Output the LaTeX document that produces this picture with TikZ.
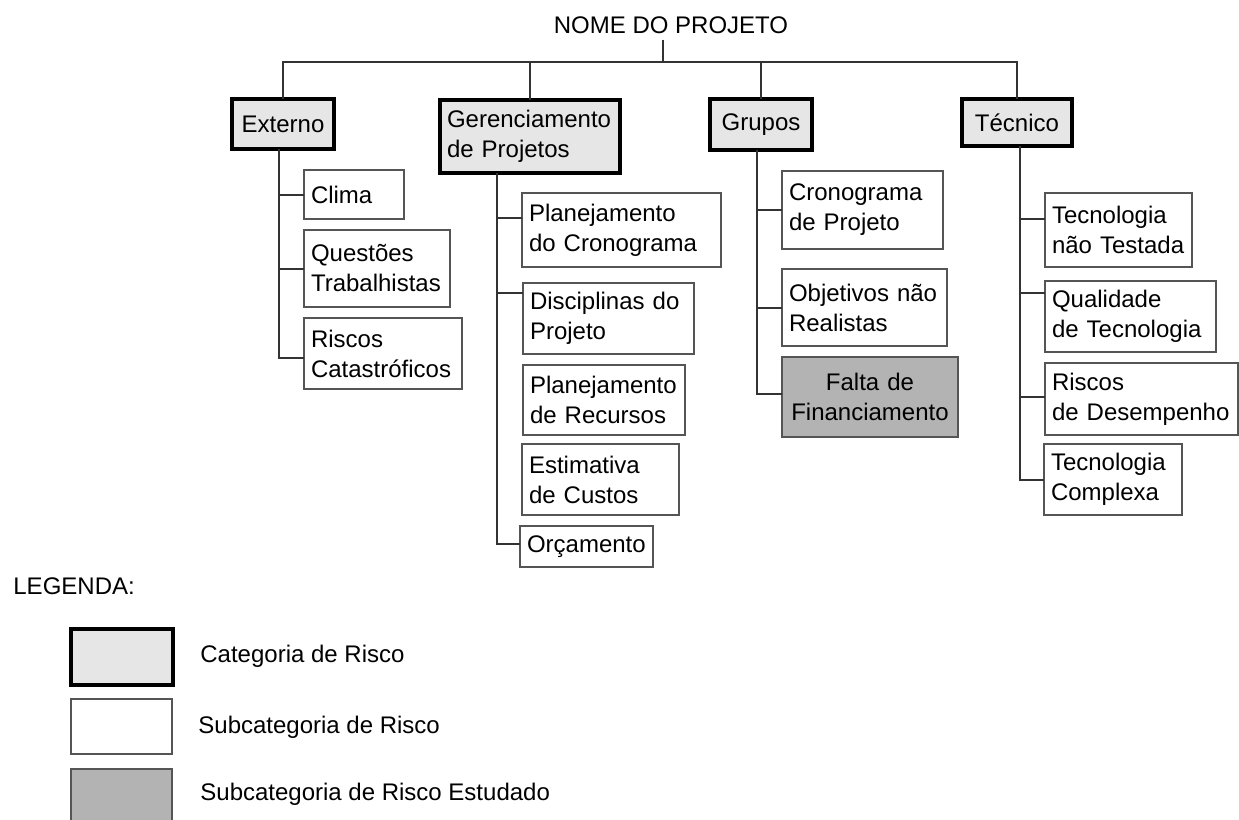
\documentclass[tikz,border=0pt]{standalone}
\usepackage{fontspec}
\setmainfont{Liberation Sans}
\definecolor{catfill}{HTML}{E6E6E6}
\definecolor{estfill}{HTML}{B3B3B3}
\definecolor{subline}{HTML}{555555}
\definecolor{linkcol}{HTML}{333333}
\tikzset{
  boxfont/.style={font=\fontsize{12}{15}\selectfont},
  cat/.style={boxfont, draw=black, line width=2pt, fill=catfill, align=center,
    inner xsep=3.5pt, inner ysep=0pt, outer sep=0pt, anchor=north west},
  sub/.style={boxfont, draw=subline, line width=1pt, fill=white, align=left,
    inner xsep=3.5pt, inner ysep=0pt, outer sep=0pt, anchor=north west},
  est/.style={sub, fill=estfill, align=center},
  link/.style={draw=linkcol, line width=1pt},
  txt/.style={boxfont, inner sep=0pt, anchor=base west}
}
\begin{document}
\begin{tikzpicture}[x=0.5pt, y=-0.5pt]
  \useasboundingbox (0,0) rectangle (1239,820);
  % Projeto
  \node[boxfont, inner sep=3pt, anchor=base] (root) at (671,33) {NOME DO PROJETO};
  \coordinate (bus) at (663,62);
  % Categorias
  \node[cat, text width=44pt, minimum height=25pt] (ext) at (232,99) {Externo};
  \node[cat, text width=83pt, minimum height=36.5pt, align=left] (ger) at (440,100)
    {Gerenciamento\\de Projetos};
  \node[cat, text width=44pt, minimum height=25.5pt] (gru) at (710,99) {Grupos};
  \node[cat, text width=48pt, minimum height=23.5pt] (tec) at (962,99) {Técnico};
  \draw[link] (root.south -| bus) -- (bus);
  \draw[link] (ext.north) |- (bus) -| (tec.north);
  \draw[link] (ger.north) -- (ger.north |- bus);
  \draw[link] (gru.north) -- (gru.north |- bus);
  % Externo
  \node[sub, text width=43pt, minimum height=24.5pt] (clima) at (304,170) {Clima};
  \node[sub, text width=66pt, minimum height=38.5pt] (quest) at (304,230)
    {Questões\\Trabalhistas};
  \node[sub, text width=72pt, minimum height=35.5pt] (riscat) at (304,318)
    {Riscos\\Catastróficos};
  \coordinate (et) at ([xshift=-2pt]ext.south);
  \draw[link] (et) |- (clima.west);
  \draw[link] (et) |- (quest.west);
  \draw[link] (et) |- ([yshift=-2pt]riscat.west);
  % Gerenciamento de Projetos
  \node[sub, text width=92.5pt, minimum height=37pt] (plcron) at (522,193)
    {Planejamento\\do Cronograma};
  \node[sub, text width=78.5pt, minimum height=35.5pt] (discip) at (523,283)
    {Disciplinas do\\Projeto};
  \node[sub, text width=74pt, minimum height=35pt] (plrec) at (523,365)
    {Planejamento\\de Recursos};
  \node[sub, text width=71.5pt, minimum height=35.5pt] (estim) at (522,444)
    {Estimativa\\de Custos};
  \node[sub, text width=59.5pt, minimum height=20.5pt] (orc) at (520,526) {Orçamento};
  \coordinate (gt) at ([xshift=-16.5pt]ger.south);
  \draw[link] (gt) |- ([yshift=6pt]plcron.west);
  \draw[link] (gt) |- ([yshift=13pt]discip.west);
  \draw[link] (gt) |- ([yshift=1.5pt]orc.west);
  % Grupos
  \node[sub, text width=73.5pt, minimum height=39pt] (crong) at (782,171)
    {Cronograma\\de Projeto};
  \node[sub, text width=75.5pt, minimum height=38.5pt] (objet) at (782,269)
    {Objetivos não\\Realistas};
  \node[est, text width=81pt, minimum height=40pt] (falta) at (782,357)
    {Falta de\\Financiamento};
  \coordinate (grt) at ([xshift=-2pt]gru.south);
  \draw[link] (grt) |- (crong.west);
  \draw[link] (grt) |- (objet.west);
  \draw[link] (grt) |- ([yshift=1.5pt]falta.west);
  % Tecnico
  \node[sub, text width=66.5pt, minimum height=37pt] (tecnt) at (1045,193)
    {Tecnologia\\não Testada};
  \node[sub, text width=78.5pt, minimum height=35.5pt] (qualid) at (1045,281)
    {Qualidade\\de Tecnologia};
  \node[sub, text width=89.5pt, minimum height=36pt] (riscdes) at (1045,363)
    {Riscos\\de Desempenho};
  \node[sub, text width=62pt, minimum height=35.5pt] (teccomp) at (1044,444)
    {Tecnologia\\Complexa};
  \coordinate (tt) at ([xshift=1.5pt]tec.south);
  \draw[link] (tt) |- ([yshift=5.5pt]tecnt.west);
  \draw[link] (tt) |- ([yshift=12pt]qualid.west);
  \draw[link] (tt) |- ([yshift=1pt]riscdes.west);
  \draw[link] (tt) |- (teccomp.west);
  % Legenda
  \node[txt] (legenda) at (13,594) {LEGENDA:};
  \node[cat, minimum width=51pt, minimum height=28pt] (lcat) at (71,629) {};
  \node[sub, minimum width=50.5pt, minimum height=27.5pt] (lsub) at (71,699) {};
  \node[est, minimum width=50.5pt, minimum height=28pt] (lest) at (71,769) {};
  \node[txt] (lcattxt) at (200,662) {Categoria de Risco};
  \node[txt] (lsubtxt) at (198,733) {Subcategoria de Risco};
  \node[txt] (lesttxt) at (200,800) {Subcategoria de Risco Estudado};
\end{tikzpicture}
\end{document}
